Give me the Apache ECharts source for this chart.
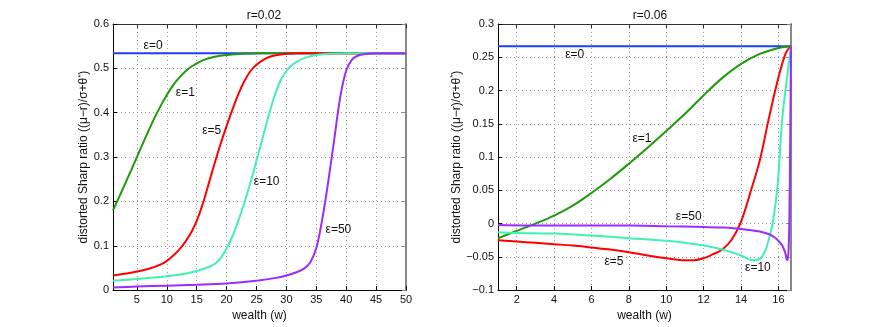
<!DOCTYPE html>
<html>
<head>
<meta charset="utf-8">
<script src="https://cdn.jsdelivr.net/npm/echarts@6/dist/echarts.min.js"></script>
<style>
  html, body { margin: 0; padding: 0; background: #fff; }
  #main { width: 874px; height: 327px; }
</style>
</head>
<body>
<div id="main"></div>
<script>
// left panel, r=0.02
const leftTicks = [5, 10, 15, 20, 25, 30, 35, 40, 45, 50];
const l0w = [1, 50];
const l0v = [0.534, 0.534];
const l1w = [1, 2, 3, 4, 5, 6, 7, 8, 9, 10, 11, 12, 13, 14, 15, 16, 18, 20, 23, 26, 30, 50];
const l1v = [0.18, 0.209, 0.239, 0.269, 0.300, 0.331, 0.361, 0.390, 0.416, 0.440, 0.461, 0.478, 0.492, 0.503, 0.511, 0.518, 0.526, 0.530, 0.533, 0.534, 0.534, 0.534];
const l5w = [1, 3, 5, 7, 9, 10, 11, 12, 13, 14, 15, 16, 17, 18, 19, 20, 21, 22, 23, 24, 25, 26, 27, 28, 30, 32, 50];
const l5v = [0.033, 0.037, 0.042, 0.048, 0.058, 0.066, 0.077, 0.090, 0.107, 0.128, 0.156, 0.194, 0.240, 0.286, 0.330, 0.370, 0.408, 0.443, 0.472, 0.494, 0.508, 0.518, 0.525, 0.529, 0.533, 0.534, 0.534];
const l10w = [1, 5, 10, 13, 15, 17, 18, 19, 20, 21, 22, 23, 24, 25, 26, 27, 28, 29, 30, 31, 32, 33, 35, 37, 40, 50];
const l10v = [0.021, 0.025, 0.031, 0.037, 0.043, 0.052, 0.059, 0.072, 0.094, 0.122, 0.158, 0.198, 0.243, 0.292, 0.342, 0.392, 0.437, 0.472, 0.494, 0.508, 0.517, 0.523, 0.530, 0.533, 0.534, 0.534];
const l50w = [1, 5, 10, 15, 20, 25, 28, 30, 32, 33, 34, 35, 36, 37, 38, 39, 40, 41, 42, 43, 45, 50];
const l50v = [0.006, 0.008, 0.010, 0.012, 0.015, 0.021, 0.027, 0.033, 0.042, 0.049, 0.063, 0.095, 0.160, 0.245, 0.340, 0.435, 0.495, 0.520, 0.529, 0.532, 0.534, 0.534];

// right panel, r=0.06
const rightTicks = [2, 4, 6, 8, 10, 12, 14, 16];
const r0w = [1, 16.67];
const r0v = [0.2667, 0.2667];
const r1w = [1, 2, 3, 4, 5, 6, 7, 8, 9, 10, 11, 12, 13, 14, 15, 16, 16.67];
const r1v = [-0.022, -0.011, 0.000, 0.012, 0.027, 0.046, 0.067, 0.090, 0.114, 0.139, 0.165, 0.193, 0.219, 0.240, 0.255, 0.264, 0.2667];
const r5w = [1, 2, 3, 4, 5, 6, 7, 8, 9, 10, 11, 11.5, 12, 12.5, 13, 13.5, 14, 14.5, 15, 15.5, 16, 16.4, 16.67];
const r5v = [-0.025, -0.027, -0.029, -0.031, -0.033, -0.036, -0.039, -0.043, -0.048, -0.052, -0.055, -0.055, -0.052, -0.046, -0.039, -0.024, 0.003, 0.047, 0.095, 0.160, 0.220, 0.257, 0.2667];
const r10w = [1, 2, 4, 6, 8, 10, 11, 12, 13, 14, 14.6, 15, 15.3, 15.5, 15.7, 15.95, 16.2, 16.47, 16.67];
const r10v = [-0.013, -0.014, -0.015, -0.018, -0.022, -0.026, -0.029, -0.033, -0.039, -0.048, -0.055, -0.053, -0.040, -0.022, 0.002, 0.057, 0.157, 0.222, 0.2667];
const r50w = [1, 4, 8, 10, 12, 13, 14, 15, 15.5, 15.8, 16, 16.2, 16.35, 16.47, 16.53, 16.58, 16.62, 16.67];
const r50v = [-0.002, -0.003, -0.003, -0.004, -0.005, -0.006, -0.008, -0.012, -0.016, -0.021, -0.026, -0.033, -0.043, -0.055, -0.045, 0.0, 0.1, 0.2667];

// curve labels: [text, w, value]
const leftLabels = [['ε=0', 7.7, 0.551], ['ε=1', 13.1, 0.445], ['ε=5', 17.5, 0.36], ['ε=10', 26.7, 0.244], ['ε=50', 38.7, 0.137]];
const rightLabels = [['ε=0', 5.1, 0.254], ['ε=1', 8.7, 0.128], ['ε=5', 7.2, -0.057], ['ε=10', 14.9, -0.067], ['ε=50', 11.2, 0.010]];

const colors = ['#1f3dff', '#1f9a0a', '#ff0000', '#40f2b0', '#9a2cff'];
const font = "'Liberation Sans', Arial, sans-serif";

var myChart = echarts.init(document.getElementById('main'));

function pairs(w, v) {
  return w.map((x, i) => [x, v[i]]);
}

function fmt(v) {
  return String(+v.toFixed(2)).replace('-', '\u2212');
}

const yName = '{a|distorted Sharp ratio ((\u03bc\u2212r)/\u03c3+\u03b8}{s|*}{a|)}';
const nameStyle = {
  fontFamily: font, fontSize: 12, color: '#111',
  rich: {
    a: { fontFamily: font, fontSize: 12, color: '#111', lineHeight: 14 },
    s: { fontFamily: font, fontSize: 8, color: '#111', lineHeight: 14, verticalAlign: 'top' }
  }
};

function xAxes(g, min, max, ticks) {
  return [{
    gridIndex: g, type: 'value', min: min, max: max,
    name: 'wealth (w)', nameLocation: 'middle', nameGap: 12,
    nameTextStyle: { fontFamily: font, fontSize: 12, color: '#111' },
    axisLine: { onZero: false, lineStyle: { color: '#000', width: 1 } },
    axisTick: { inside: true, length: 4, customValues: ticks, lineStyle: { color: '#000' } },
    axisLabel: { customValues: ticks, margin: 4, fontFamily: font, fontSize: 11, color: '#111' },
    splitLine: { show: true, lineStyle: { type: [1, 3], color: '#999' } }
  }, {
    gridIndex: g, type: 'value', min: min, max: max, position: 'top',
    axisLine: { onZero: false, lineStyle: { color: '#333', width: 1 } },
    axisTick: { inside: true, length: 4, customValues: ticks, lineStyle: { color: '#333' } },
    axisLabel: { show: false },
    splitLine: { show: false }
  }];
}

function yAxes(g, min, max, step, gap) {
  return [{
    gridIndex: g, type: 'value', min: min, max: max, interval: step,
    name: yName, nameLocation: 'middle', nameGap: gap,
    nameTextStyle: nameStyle,
    axisLine: { onZero: false, lineStyle: { color: '#000', width: 1 } },
    axisTick: { inside: true, length: 4, lineStyle: { color: '#000' } },
    axisLabel: { margin: 4, fontFamily: font, fontSize: 11, color: '#111', formatter: fmt },
    splitLine: { show: true, lineStyle: { type: [1, 3], color: '#999' } }
  }, {
    gridIndex: g, type: 'value', min: min, max: max, interval: step, position: 'right',
    axisLine: { onZero: false, lineStyle: { color: '#888', width: 2 } },
    axisTick: { inside: true, length: 4, lineStyle: { color: '#888' } },
    axisLabel: { show: false },
    splitLine: { show: false }
  }];
}

function line(g, w, v, c, label) {
  return {
    type: 'line', xAxisIndex: g * 2, yAxisIndex: g * 2,
    data: pairs(w, v), showSymbol: false, symbol: 'none',
    smooth: 0.35,
    lineStyle: { width: 2, color: c }, itemStyle: { color: c },
    markPoint: {
      symbol: 'circle', symbolSize: 0, silent: true,
      label: { show: true, position: 'inside', formatter: label[0], fontFamily: font, fontSize: 12, color: '#111' },
      data: [{ coord: [label[1], label[2]] }]
    }
  };
}

const leftSeries = [[l0w, l0v], [l1w, l1v], [l5w, l5v], [l10w, l10v], [l50w, l50v]];
const rightSeries = [[r0w, r0v], [r1w, r1v], [r5w, r5v], [r10w, r10v], [r50w, r50v]];

var option = {
  animation: false,
  backgroundColor: '#fff',
  title: [
    { text: 'r=0.02', left: 259, top: 5, textAlign: 'center', textStyle: { fontFamily: font, fontSize: 12, fontWeight: 'normal', color: '#111' } },
    { text: 'r=0.06', left: 645, top: 5, textAlign: 'center', textStyle: { fontFamily: font, fontSize: 12, fontWeight: 'normal', color: '#111' } }
  ],
  grid: [
    { left: 113, top: 24, width: 293, height: 268 },
    { left: 498, top: 24, width: 293, height: 268 }
  ],
  xAxis: xAxes(0, 1, 50, leftTicks).concat(xAxes(1, 1, 16.67, rightTicks)),
  yAxis: yAxes(0, 0, 0.6, 0.1, 16).concat(yAxes(1, -0.1, 0.3, 0.05, 30)),
  series: leftSeries.map((s, i) => line(0, s[0], s[1], colors[i], leftLabels[i]))
    .concat(rightSeries.map((s, i) => line(1, s[0], s[1], colors[i], rightLabels[i])))
};
myChart.setOption(option);
</script>
</body>
</html>
